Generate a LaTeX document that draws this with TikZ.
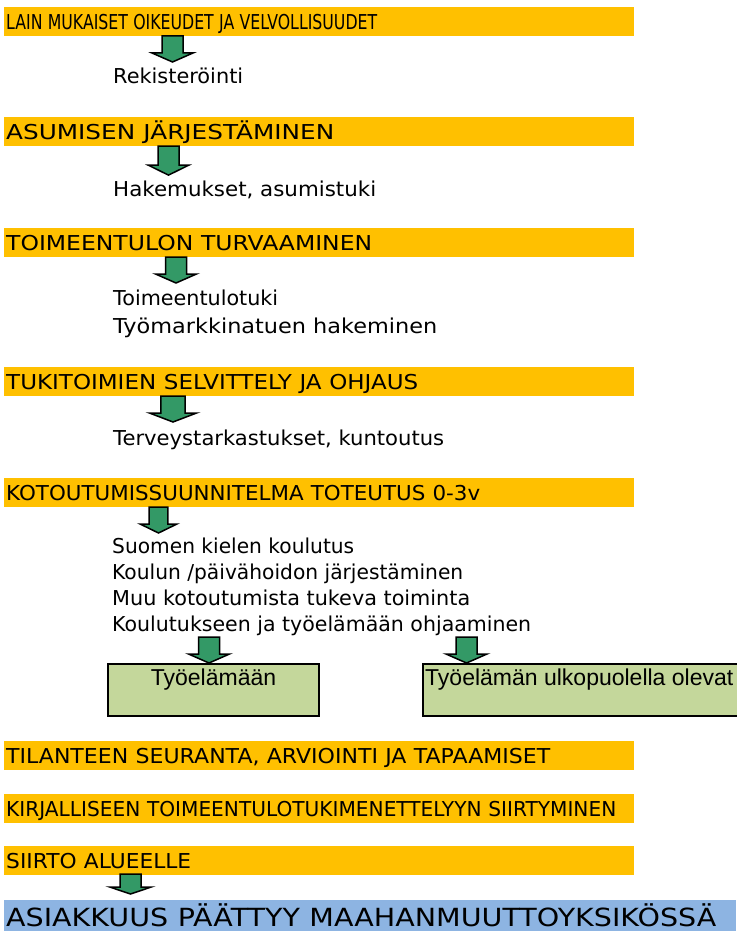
\documentclass[tikz,border=0pt]{standalone}
\usepackage{fontspec}
\setmainfont{DejaVu Sans}
\newfontfamily\arialfont{Liberation Sans}

\definecolor{barorange}{RGB}{255,192,0}
\definecolor{arrowgreen}{RGB}{51,153,102}
\definecolor{boxgreen}{RGB}{196,215,155}
\definecolor{endblue}{RGB}{141,180,226}

\newcommand\fitw[2]{\resizebox{#1pt}{\height}{#2}}

\tikzset{
  pics/downarrow/.style={code={
    \draw[line width=1.5pt, fill=arrowgreen] (-10.5,0) -- (10.5,0) -- (10.5,17) -- (20.5,17) -- (0,26) -- (-20.5,17) -- (-10.5,17) -- cycle;
  }}
}

\begin{document}
\begin{tikzpicture}[x=1pt, y=-1pt,
    bar/.style={fill=barorange, anchor=north west, minimum width=630pt, minimum height=29pt,
      text width=626pt, inner xsep=2pt, inner ysep=0pt, text height=15pt, text depth=0pt,
      align=left, font=\fontsize{20.5pt}{24pt}\selectfont},
    endbar/.style={fill=endblue, anchor=north west, minimum width=732pt, minimum height=31pt,
      text width=728pt, inner xsep=2pt, inner ysep=0pt, text height=22pt, text depth=0pt,
      align=left, font=\fontsize{25pt}{30pt}\selectfont},
    item/.style={anchor=base west, inner sep=0pt, font=\fontsize{20.5pt}{24pt}\selectfont},
    greenbox/.style={draw, line width=1.5pt, fill=boxgreen, anchor=north west, minimum height=52pt, inner sep=0pt},
    boxtext/.style={inner sep=0pt, font=\arialfont\fontsize{23pt}{27pt}\selectfont}]
    \useasboundingbox (0,0) rectangle (736,931);

    \node[bar] (lain) at (4,7) {\fitw{371}{LAIN MUKAISET OIKEUDET JA VELVOLLISUUDET}};
    \node[item] (rek) at (113,84) {\fitw{130}{Rekisteröinti}};

    \node[bar] (asu) at (4,117) {\fitw{328}{ASUMISEN JÄRJESTÄMINEN}};
    \node[item] (hak) at (113,196) {\fitw{263}{Hakemukset, asumistuki}};

    \node[bar] (toim) at (4,228) {\fitw{366}{TOIMEENTULON TURVAAMINEN}};
    \node[item] (tuki) at (113,305) {\fitw{165}{Toimeentulotuki}};
    \node[item] (tmt) at (113,333) {\fitw{324}{Työmarkkinatuen hakeminen}};

    \node[bar] (tuk) at (4,367) {\fitw{412}{TUKITOIMIEN SELVITTELY JA OHJAUS}};
    \node[item] (terv) at (113,445) {\fitw{331}{Terveystarkastukset, kuntoutus}};

    \node[bar] (kot) at (4,478) {\fitw{474}{KOTOUTUMISSUUNNITELMA TOTEUTUS 0-3v}};
    \node[item] (kieli) at (112,553) {\fitw{242}{Suomen kielen koulutus}};
    \node[item] (koulu) at (112,579) {\fitw{351}{Koulun /päivähoidon järjestäminen}};
    \node[item] (muu) at (112,605) {\fitw{358}{Muu kotoutumista tukeva toiminta}};
    \node[item] (ohj) at (112,631) {\fitw{419}{Koulutukseen ja työelämään ohjaaminen}};

    \node[greenbox, minimum width=211pt] (tyo) at (107,663) {};
    \node[greenbox, minimum width=330pt] (ulko) at (422,663) {};
    \node[boxtext, anchor=base] (tyotxt) at (213.5,685) {Työelämään};
    \node[boxtext, anchor=base west] (ulkotxt) at (425,685) {Työelämän ulkopuolella olevat};

    \node[bar] (seur) at (4,741) {\fitw{544}{TILANTEEN SEURANTA, ARVIOINTI JA TAPAAMISET}};
    \node[bar] (kirj) at (4,794) {\fitw{610}{KIRJALLISEEN TOIMEENTULOTUKIMENETTELYYN SIIRTYMINEN}};
    \node[bar] (siir) at (4,846) {\fitw{185}{SIIRTO ALUEELLE}};
    \node[endbar] (loppu) at (4,900) {\fitw{710}{ASIAKKUUS PÄÄTTYY MAAHANMUUTTOYKSIKÖSSÄ}};

    \pic at (172.5,36) {downarrow};
    \pic[yscale=1.12] at (168.5,146) {downarrow};
    \pic at (176,257) {downarrow};
    \pic[xscale=1.15] at (173,396) {downarrow};
    \pic[xscale=0.9] at (158.5,507) {downarrow};
    \pic at (209,637) {downarrow};
    \pic at (466.5,637) {downarrow};
    \pic[yscale=0.77] at (130.5,874) {downarrow};
\end{tikzpicture}
\end{document}
